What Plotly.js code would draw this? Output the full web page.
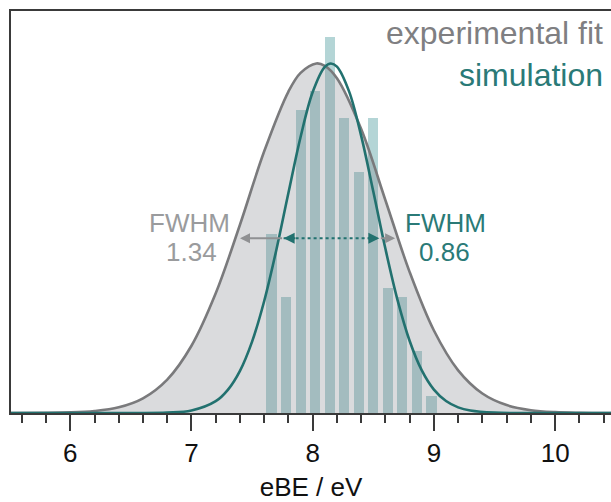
<!DOCTYPE html>
<html>
<head>
<meta charset="utf-8">
<script src="https://cdn.plot.ly/plotly-3.0.1.min.js"></script>
<style>html,body{margin:0;padding:0;background:#fff;}#chart{width:611px;height:502px;}</style>
</head>
<body>
<div id="chart"></div>
<script>
// Experimental fit curve (normalised intensity)
const fitX = [5.5, 6.0, 6.2, 6.4, 6.6, 6.8, 7.0, 7.2, 7.4, 7.6, 7.8, 7.9, 8.03, 8.1, 8.2, 8.4, 8.6, 8.8, 9.0, 9.2, 9.4, 9.6, 9.8, 10.0, 10.2, 10.47];
const fitY = [0.0000, 0.0017, 0.0056, 0.0163, 0.0420, 0.0956, 0.1924, 0.3424, 0.5386, 0.7486, 0.9196, 0.9730, 1.0000, 0.9931, 0.9578, 0.8122, 0.6087, 0.4031, 0.2360, 0.1221, 0.0558, 0.0226, 0.0081, 0.0025, 0.0007, 0.0000];

// Simulation curve
const simX = [5.5, 6.5, 6.8, 7.0, 7.2, 7.3, 7.4, 7.5, 7.6, 7.7, 7.8, 7.9, 8.0, 8.1, 8.15, 8.2, 8.3, 8.4, 8.5, 8.6, 8.7, 8.8, 8.9, 9.0, 9.1, 9.2, 9.3, 9.5, 9.8, 10.47];
const simY = [0.0000, 0.0000, 0.0011, 0.0070, 0.0337, 0.0662, 0.1206, 0.2041, 0.3204, 0.4664, 0.6300, 0.7896, 0.9181, 0.9903, 1.0000, 0.9910, 0.9201, 0.7926, 0.6334, 0.4696, 0.3230, 0.2061, 0.1220, 0.0670, 0.0342, 0.0161, 0.0071, 0.0011, 0.0000, 0.0000];

// Simulated stick histogram
const histX = [7.66, 7.78, 7.90, 8.02, 8.14, 8.26, 8.38, 8.50, 8.62, 8.74, 8.86, 8.98];
const histY = [0.511, 0.331, 0.867, 0.920, 1.075, 0.844, 0.690, 0.844, 0.357, 0.331, 0.177, 0.049];

// FWHM markers (eV)
const fitFWHM = [7.40, 8.68];
const simFWHM = [7.76, 8.55];
const halfMax = 0.5;

const tickVals = [6, 7, 8, 9, 10];
const tickText = ['6', '7', '8', '9', '10'];

const labels = {
  fit: 'experimental fit',
  sim: 'simulation',
  fwhm: 'FWHM',
  fitW: '1.34',
  simW: '0.86',
  xTitle: 'eBE / eV'
};

const TEAL = '#22716f';
const TEAL_TXT = '#2a7a77';
const GRAY = '#7a7a7c';
const ARROW_GRAY = '#8f9092';
const FONT = 'Liberation Sans, Arial, sans-serif';

const traces = [
  {
    type: 'bar', x: histX, y: histY, width: 0.083,
    marker: {color: 'rgb(180,213,214)', line: {width: 0}},
    hoverinfo: 'skip', showlegend: false
  },
  {
    type: 'scatter', mode: 'lines', x: fitX, y: fitY,
    line: {color: GRAY, width: 2.6, shape: 'spline'},
    fill: 'tozeroy', fillcolor: 'rgba(118,122,128,0.27)',
    hoverinfo: 'skip', showlegend: false
  },
  {
    type: 'scatter', mode: 'lines', x: simX, y: simY,
    line: {color: TEAL, width: 2.6, shape: 'spline'},
    hoverinfo: 'skip', showlegend: false
  },
  {
    type: 'scatter', mode: 'lines', x: simFWHM, y: [halfMax, halfMax],
    line: {color: TEAL, width: 2, dash: 'dot'},
    hoverinfo: 'skip', showlegend: false
  }
];

const annotations = [
  // gray arrows (outer parts)
  {x: fitFWHM[0], y: halfMax, ax: simFWHM[0], ay: halfMax, axref: 'x', ayref: 'y', xref: 'x', yref: 'y',
   text: '', showarrow: true, arrowhead: 2, arrowsize: 1, arrowwidth: 2, arrowcolor: ARROW_GRAY, standoff: 0},
  {x: fitFWHM[1], y: halfMax, ax: simFWHM[1], ay: halfMax, axref: 'x', ayref: 'y', xref: 'x', yref: 'y',
   text: '', showarrow: true, arrowhead: 2, arrowsize: 1, arrowwidth: 2, arrowcolor: ARROW_GRAY, standoff: 0},
  // teal arrow heads
  {x: simFWHM[0], y: halfMax, ax: 13, ay: 0, xref: 'x', yref: 'y',
   text: '', showarrow: true, arrowhead: 2, arrowsize: 1.1, arrowwidth: 2, arrowcolor: TEAL, standoff: 0},
  {x: simFWHM[1], y: halfMax, ax: -13, ay: 0, xref: 'x', yref: 'y',
   text: '', showarrow: true, arrowhead: 2, arrowsize: 1.1, arrowwidth: 2, arrowcolor: TEAL, standoff: 0},
  // labels
  {xref: 'paper', yref: 'paper', x: 0.9908, y: 0.9458, xanchor: 'right', yanchor: 'middle', showarrow: false,
   text: labels.fit, font: {family: FONT, size: 32, color: '#7f7f82'}},
  {xref: 'paper', yref: 'paper', x: 0.9908, y: 0.8413, xanchor: 'right', yanchor: 'middle', showarrow: false,
   text: labels.sim, font: {family: FONT, size: 32, color: TEAL_TXT}},
  {xref: 'paper', yref: 'paper', x: 0.2975, y: 0.4726, xanchor: 'center', yanchor: 'middle', showarrow: false,
   text: labels.fwhm, font: {family: FONT, size: 26, color: '#9a9b9d'}},
  {xref: 'paper', yref: 'paper', x: 0.300, y: 0.4005, xanchor: 'center', yanchor: 'middle', showarrow: false,
   text: labels.fitW, font: {family: FONT, size: 26, color: '#9a9b9d'}},
  {xref: 'paper', yref: 'paper', x: 0.7242, y: 0.4726, xanchor: 'center', yanchor: 'middle', showarrow: false,
   text: labels.fwhm, font: {family: FONT, size: 26, color: TEAL_TXT}},
  {xref: 'paper', yref: 'paper', x: 0.7233, y: 0.4005, xanchor: 'center', yanchor: 'middle', showarrow: false,
   text: labels.simW, font: {family: FONT, size: 26, color: TEAL_TXT}}
];

const layout = {
  width: 611, height: 502,
  margin: {l: 11, r: 0, t: 11, b: 89, pad: 0},
  paper_bgcolor: '#ffffff', plot_bgcolor: '#ffffff',
  font: {family: FONT, color: '#111111'},
  showlegend: false,
  bargap: 0,
  xaxis: {
    range: [5.511, 10.461], autorange: false,
    showgrid: false, zeroline: false,
    showline: true, linecolor: '#3a3a3a', linewidth: 2, mirror: true,
    ticks: 'outside', ticklen: 16, tickwidth: 2, tickcolor: '#3a3a3a',
    tickvals: tickVals, ticktext: tickText,
    tickfont: {family: FONT, size: 26, color: '#111111'},
    ticklabelstandoff: 0,
    minor: {dtick: 0.2, tick0: 5.6, ticks: 'outside', ticklen: 8, tickwidth: 2, tickcolor: '#3a3a3a', showgrid: false},
    title: {text: labels.xTitle, font: {family: FONT, size: 26, color: '#111111'}, standoff: 16},
    automargin: false,
    layer: 'below traces',
    fixedrange: true
  },
  yaxis: {
    range: [0, 1.150], autorange: false,
    showgrid: false, zeroline: false,
    showline: true, linecolor: '#3a3a3a', linewidth: 2, mirror: false,
    ticks: '', showticklabels: false,
    automargin: false,
    fixedrange: true
  },
  annotations: annotations
};

Plotly.newPlot('chart', traces, layout, {staticPlot: true, displayModeBar: false});
</script>
</body>
</html>
